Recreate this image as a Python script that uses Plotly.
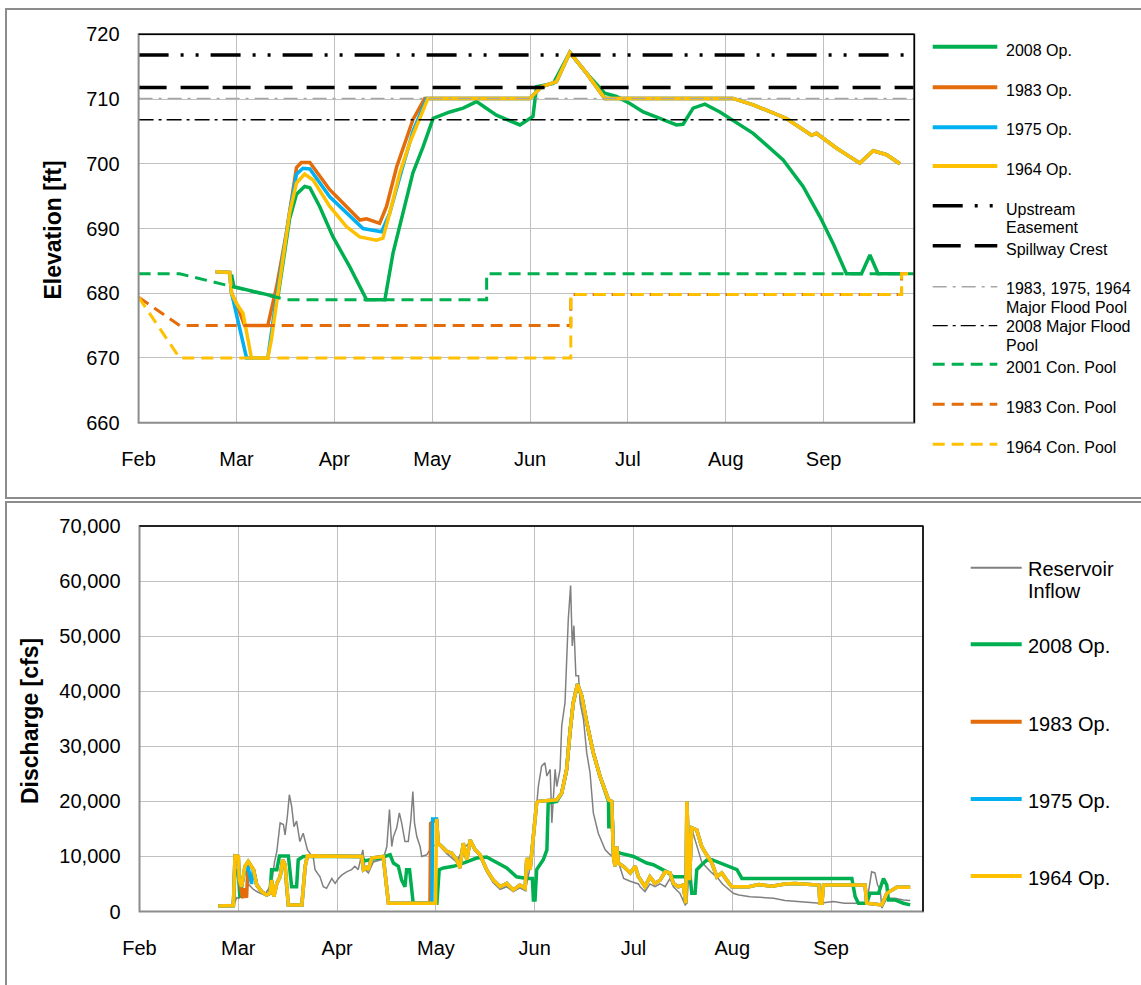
import plotly.graph_objects as go

W, H = 1141, 985
FONT = "Liberation Sans, Arial, Helvetica, sans-serif"

# ---------------- axis labels (x = days after Feb 1, ticks every 30 days) ----
month_ticks = [0, 30, 60, 90, 120, 150, 180, 210]
month_labels = ["Feb", "Mar", "Apr", "May", "Jun", "Jul", "Aug", "Sep"]
elev_ticks = [660, 670, 680, 690, 700, 710, 720]
q_ticks = [0, 10000, 20000, 30000, 40000, 50000, 60000, 70000]

# ---------------- elevation reference levels (ft) ----------------------------
upstream_easement = 716.8
spillway_crest = 711.8
major_flood_pool_old = 710.1
major_flood_pool_2008 = 706.8
ref_days = [0, 238]

# ---------------- conservation pools ----------------------------------------
con2001_day = [0, 12.6, 45.3, 106.7, 106.7, 238]
con2001_elev = [683, 683, 679, 679, 683, 683]
con1983_day = [0, 12.6, 132.5, 132.5, 233.9, 233.9, 238]
con1983_elev = [679.4, 675, 675, 679.8, 679.8, 683, 683]
con1964_day = [0, 12.6, 132.5, 132.5, 233.9, 233.9, 238]
con1964_elev = [679.4, 670, 670, 679.8, 679.8, 683, 683]

# ---------------- pool elevation for each operation --------------------------
op2008_day = [28.5, 29.2, 42.7, 44.3, 46.3, 48.4, 50.9, 52.5, 55.5, 59.6,
              64.7, 69.9, 75.5, 78.0, 81.1, 84.1, 87.2, 90.3, 95.4, 99.5,
              103.6, 109.7, 116.9, 120.9, 122.0, 127.1, 132.2, 137.3, 142.9, 146.5,
              150.6, 154.7, 159.8, 164.9, 166.9, 170.0, 173.6, 178.2, 188.4, 197.6,
              203.7, 208.9, 212.9, 217.0, 221.6, 224.2, 226.7, 233.4]
op2008_elev = [682.9, 681.0, 679.4, 685.1, 691.5, 695.3, 696.5, 696.3, 693.4, 688.7,
               684.1, 679.0, 679.0, 686.2, 692.4, 698.6, 702.6, 707.0, 708.0, 708.6,
               709.6, 707.5, 706.0, 707.3, 711.9, 712.4, 717.2, 714.0, 710.9, 710.4,
               709.3, 708.0, 707.0, 706.0, 706.1, 708.6, 709.2, 708.0, 704.7, 700.6,
               696.5, 691.8, 687.7, 683.0, 683.0, 685.9, 683.0, 683.0]

early1983_day = [23.6, 27.9, 28.5, 30.0, 32.5, 39.6, 42.3, 45.3, 48.4, 49.9,
                 52.5, 58.6, 67.8, 69.9, 73.9, 76.0, 79.1, 84.1, 87.7]
early1983_elev = [683.3, 683.2, 680.0, 678.4, 675.0, 675.0, 681.0, 689.3, 699.4, 700.2,
                  700.2, 696.0, 691.3, 691.5, 690.8, 693.4, 699.5, 706.8, 710.1]
early1975_day = [23.6, 27.9, 28.5, 30.0, 33.1, 39.6, 42.3, 46.3, 48.4, 50.4,
                 52.5, 58.6, 68.8, 74.5, 77.0, 80.1, 84.1, 88.3]
early1975_elev = [683.3, 683.2, 680.0, 676.9, 670.0, 670.0, 679.5, 692.5, 698.4, 699.3,
                  699.2, 694.9, 690.0, 689.5, 692.4, 698.0, 705.0, 710.1]
early1964_day = [23.6, 27.9, 28.5, 30.0, 32.0, 33.1, 34.6, 39.6, 40.7, 42.3,
                 44.3, 46.3, 48.4, 50.9, 53.5, 58.6, 63.7, 67.8, 72.9, 74.9,
                 77.0, 80.1, 83.1, 86.2]
early1964_elev = [683.3, 683.2, 680.0, 678.4, 676.9, 673.9, 670.0, 670.0, 672.8, 678.5,
                  685.1, 692.4, 697.0, 698.4, 697.5, 693.4, 690.3, 688.7, 688.2, 688.5,
                  692.4, 698.6, 703.2, 707.2]
# 1983, 1975 and 1964 operations coincide from May onward
late_day = [88.7, 119.9, 123.5, 128.1, 132.2, 137.3, 142.9, 182.2, 188.4, 198.6,
            206.3, 207.8, 214.0, 221.1, 225.2, 229.3, 233.4]
late_elev = [710.1, 710.1, 711.9, 712.7, 717.2, 714.0, 710.1, 710.1, 709.1, 707.0,
             704.4, 704.7, 702.4, 700.1, 702.0, 701.4, 700.0]

# ---------------- discharge (day, cfs) ---------------------------------------
inflow_pts = [
    (23.9, 900), (28.5, 1000), (29.5, 2500), (30.2, 2400), (31.0, 4000), (32.0, 3000),
    (33.0, 5000), (34.6, 4000), (36.0, 3500), (38.0, 3000), (40.1, 5000), (41.0, 9000),
    (41.7, 10900), (42.7, 16100), (43.7, 15800), (44.2, 13900), (44.9, 17300), (45.5, 21200),
    (46.2, 19100), (46.9, 15400), (47.7, 16400), (48.7, 12700), (49.7, 14200), (51.0, 11200),
    (52.8, 9700), (53.3, 7600), (54.8, 6300), (55.8, 4500), (56.8, 4200), (58.4, 6000),
    (59.4, 5100), (60.4, 6000), (61.4, 6600), (62.9, 7200), (64.4, 7600), (65.4, 8200),
    (66.4, 7600), (67.8, 11200), (68.5, 7600), (69.5, 7000), (71.0, 9000), (74.0, 9500),
    (75.1, 11800), (75.9, 18500), (76.6, 11800), (77.1, 13600), (78.1, 15200), (78.9, 17900),
    (79.6, 16100), (80.6, 12700), (81.6, 12700), (82.4, 16700), (83.0, 21800), (83.5, 16100),
    (84.2, 13600), (85.2, 11800), (85.7, 10000), (87.2, 10300), (89.0, 12000), (91.0, 12000),
    (93.3, 10500), (96.3, 9000), (98.3, 11500), (100.4, 12500), (103.4, 10000), (105.4, 7200),
    (107.4, 5200), (109.5, 4000), (111.5, 4500), (113.5, 3600), (115.5, 4300), (117.1, 3800),
    (118.6, 8000), (120.1, 16000), (121.1, 22700), (122.1, 26400), (123.1, 27000), (123.7, 24600),
    (124.7, 25800), (125.2, 16100), (126.2, 25800), (126.7, 22700), (127.7, 25800), (128.2, 33700),
    (129.2, 37900), (130.2, 53100), (130.9, 59200), (131.4, 48200), (131.9, 51900), (132.5, 42800),
    (133.3, 42800), (133.8, 37900), (134.8, 34900), (135.8, 28800), (136.8, 25200), (137.8, 17900),
    (139.3, 14200), (141.4, 11200), (142.9, 10300), (144.0, 10000), (145.4, 9000), (147.0, 6000),
    (149.0, 5500), (151.5, 5000), (152.0, 4500), (153.5, 3600), (155.0, 5000), (156.5, 4500),
    (158.1, 5000), (159.6, 4500), (161.1, 6000), (162.1, 4500), (164.1, 3300), (165.7, 1200),
    (166.2, 1500), (167.2, 12000), (167.7, 15000), (169.2, 12000), (170.7, 9000), (172.2, 8000),
    (173.8, 7000), (175.3, 6300), (177.0, 5000), (180.3, 3300), (182.0, 3000), (185.4, 2700),
    (190.0, 2500), (192.5, 2400), (196.0, 2000), (199.6, 1800), (203.0, 1700), (206.6, 1500),
    (210.7, 1800), (214.0, 1500), (216.8, 1500), (220.8, 1500), (222.3, 7200), (223.3, 7000),
    (224.1, 4800), (224.9, 4000), (225.4, 600), (226.9, 2400), (229.4, 2400), (231.9, 2100),
    (234.0, 2000)]

q2008_pts = [
    (23.9, 1000), (28.5, 1100), (29.0, 7600), (30.0, 7000), (30.5, 2500), (31.0, 4500),
    (32.0, 8200), (33.0, 9100), (34.6, 7600), (35.6, 4800), (37.1, 3600), (38.6, 3000),
    (39.6, 3300), (40.1, 7600), (41.7, 7600), (42.5, 10100), (45.2, 10100), (46.2, 4500),
    (47.7, 4500), (48.2, 9400), (49.7, 10000), (67.0, 10000), (68.5, 9200), (70.5, 9500),
    (73.0, 9700), (76.1, 10300), (77.1, 8800), (78.6, 8200), (79.6, 5700), (80.6, 4500),
    (81.1, 7600), (82.0, 7600), (82.7, 3900), (83.1, 1500), (90.3, 1500), (91.0, 7600),
    (92.3, 7900), (95.3, 8200), (98.3, 8800), (102.4, 9700), (105.4, 9900), (108.5, 8800),
    (111.5, 7900), (114.5, 6300), (117.6, 6000), (119.3, 6000), (119.6, 2100), (120.1, 2100),
    (120.6, 7600), (122.6, 9400), (123.7, 11200), (124.1, 19700), (126.7, 20000), (128.2, 21500),
    (129.7, 25800), (130.7, 32500), (131.7, 37900), (133.0, 41300), (134.3, 39100), (135.8, 34300),
    (137.8, 28800), (139.8, 24600), (142.4, 20000), (142.5, 15400), (143.2, 15400), (143.4, 19700),
    (143.9, 11200), (145.9, 10600), (150.0, 10000), (154.0, 8800), (156.0, 8500), (160.1, 7200),
    (162.1, 6300), (167.2, 6300), (167.7, 3300), (168.7, 3300), (169.2, 7600), (170.7, 8500),
    (172.2, 9300), (173.8, 9400), (176.3, 8800), (178.8, 8200), (181.4, 7600), (182.9, 6000),
    (216.3, 6000), (217.3, 2700), (218.3, 1500), (220.8, 1500), (221.8, 3300), (224.4, 3300),
    (225.9, 6000), (226.9, 4800), (227.4, 2100), (229.4, 2100), (231.9, 1500), (234.0, 1200)]

q_start_pts = [(23.9, 1000), (28.5, 1100), (29.0, 10100), (30.0, 10000), (30.3, 5700)]
q1983_march_pts = [(31.3, 2400), (31.8, 4200), (32.5, 2500), (33.0, 9100)]
q1975_march_pts = [(31.0, 4500), (32.0, 7600), (33.0, 8000), (34.0, 5000)]
q1964_march_pts = [(31.0, 4500), (32.0, 8200), (33.0, 9100)]
q_spring_pts = [
    (34.6, 7600), (35.6, 4800), (37.1, 3600), (38.6, 3000), (39.6, 3300), (40.1, 5700),
    (40.8, 2700), (41.7, 5100), (42.7, 6300), (43.5, 9400), (44.2, 8500), (44.7, 4500),
    (45.2, 1200), (49.3, 1200), (50.3, 8200), (51.0, 10100), (67.5, 10000), (68.0, 7600),
    (69.0, 8000), (69.5, 7600), (70.5, 9700), (74.0, 10000), (75.6, 1500)]
q1983_may_pts = [(88.2, 1500), (88.4, 16000), (90.2, 16800)]
q1975_may_pts = [(88.8, 1500), (89.0, 16800), (90.2, 16800)]
q1964_may_pts = [(89.9, 1500), (90.2, 16800)]
q_summer_pts = [
    (90.7, 12400), (91.8, 11800), (93.3, 10900), (94.8, 10600), (96.3, 9400), (97.3, 7900),
    (98.3, 12400), (99.4, 9400), (100.4, 13000), (101.9, 11200), (103.4, 10300), (105.4, 7600),
    (107.4, 5700), (109.5, 4500), (111.5, 5100), (113.5, 3900), (115.5, 4800), (117.1, 4200),
    (117.6, 9700), (118.6, 7600), (119.6, 13000), (120.6, 19800), (121.1, 20000), (126.7, 20300),
    (128.2, 21500), (129.7, 25800), (130.7, 32500), (131.7, 37900), (133.0, 41300), (134.3, 39100),
    (135.8, 34300), (137.8, 28800), (139.8, 24600), (142.4, 20300), (143.4, 20000), (143.9, 10000),
    (144.4, 8200), (144.9, 11800), (145.4, 8800), (146.9, 8200), (149.0, 7000), (150.5, 8200),
    (151.5, 6300), (153.5, 4500), (155.0, 6300), (156.5, 5100), (158.1, 5700), (159.6, 7200),
    (161.1, 7000), (162.1, 5100), (163.6, 4500), (165.1, 4800), (165.9, 1500), (166.2, 20000),
    (167.0, 5700), (167.7, 15200), (169.2, 14800), (170.7, 11800), (172.2, 10300), (173.8, 8800),
    (175.3, 6300), (176.8, 7000), (178.3, 5700), (179.8, 4500), (185.0, 4500), (188.0, 4900),
    (192.0, 4600), (196.0, 5000), (199.1, 5100), (203.0, 4900), (206.3, 4800), (206.6, 1500),
    (207.2, 1500), (207.7, 4800), (220.3, 4800), (220.8, 1500), (225.4, 1200), (226.9, 3300),
    (229.9, 4400), (234.0, 4400)]

# ---------------- styles ------------------------------------------------------
GREEN, ORANGE, BLUE, YELLOW, GREY = "#00b050", "#e46c0a", "#00b0f0", "#ffc000", "#808080"
DASH_EASE = "30px,12px,3px,12px,3px,12px"
DASH_SPILL = "28px,14px"
DASH_MFP_OLD = "14px,6px,3px,6px"
DASH_MFP_08 = "15px,5px,3px,5px"
DASH_CON = "12px,7px"


def unzip(pts):
    return [p[0] for p in pts], [p[1] for p in pts]


fig = go.Figure()


def add(x, y, color, width, dash="solid", xa="x", ya="y"):
    fig.add_trace(go.Scatter(x=x, y=y, mode="lines", xaxis=xa, yaxis=ya, showlegend=False,
                             hoverinfo="skip",
                             line=dict(color=color, width=width, dash=dash)))


# ---- top chart ----
add(op2008_day, op2008_elev, GREEN, 3.5)
add(early1983_day + late_day, early1983_elev + late_elev, ORANGE, 3.5)
add(early1975_day + late_day, early1975_elev + late_elev, BLUE, 3.5)
add(early1964_day + late_day, early1964_elev + late_elev, YELLOW, 3.5)
add(ref_days, [upstream_easement] * 2, "black", 3.5, DASH_EASE)
add(ref_days, [spillway_crest] * 2, "black", 3.5, DASH_SPILL)
add(ref_days, [major_flood_pool_old] * 2, "#a6a6a6", 1.5, DASH_MFP_OLD)
add(ref_days, [major_flood_pool_2008] * 2, "black", 1.3, DASH_MFP_08)
add(con2001_day, con2001_elev, GREEN, 3, DASH_CON)
add(con1983_day, con1983_elev, ORANGE, 3, DASH_CON)
add(con1964_day, con1964_elev, YELLOW, 3, DASH_CON)

# ---- bottom chart ----
x, y = unzip(inflow_pts)
add(x, y, GREY, 1.5, xa="x2", ya="y2")
x, y = unzip(q2008_pts)
add(x, y, GREEN, 3.5, xa="x2", ya="y2")
x, y = unzip(q_start_pts + q1983_march_pts + q_spring_pts + q1983_may_pts + q_summer_pts)
add(x, y, ORANGE, 3.5, xa="x2", ya="y2")
x, y = unzip(q_start_pts + q1975_march_pts + q_spring_pts + q1975_may_pts + q_summer_pts)
add(x, y, BLUE, 3.5, xa="x2", ya="y2")
x, y = unzip(q_start_pts + q1964_march_pts + q_spring_pts + q1964_may_pts + q_summer_pts)
add(x, y, YELLOW, 3.5, xa="x2", ya="y2")

# ---------------- layout ------------------------------------------------------
def px_x(v):
    return v / W


def px_y(v):
    return (H - v) / H


tickfont = dict(family=FONT, size=20, color="black")
common_x = dict(tickvals=month_ticks, ticktext=month_labels, showgrid=True,
                gridcolor="#c0c0c0", gridwidth=1, zeroline=False, showline=False,
                ticks="", tickfont=tickfont, ticklabelstandoff=22, automargin=False)
common_y = dict(showgrid=True, gridcolor="#c0c0c0", gridwidth=1, zeroline=False,
                showline=False, ticks="", tickfont=tickfont, ticklabelstandoff=18,
                automargin=False)

fig.update_layout(
    template="none",
    width=W, height=H, autosize=False,
    margin=dict(l=0, r=0, t=0, b=0, pad=0, autoexpand=False),
    paper_bgcolor="white", plot_bgcolor="white", showlegend=False,
    xaxis=dict(domain=[px_x(138.6), px_x(914.3)], range=[0, 237.8], anchor="y", **common_x),
    yaxis=dict(domain=[px_y(422.7), px_y(34.3)], range=[660, 720], tickvals=elev_ticks,
               anchor="x", **common_y),
    xaxis2=dict(domain=[px_x(139.5), px_x(923.0)], range=[0, 237.9], anchor="y2", **common_x),
    yaxis2=dict(domain=[px_y(911.5), px_y(526.0)], range=[0, 70000], tickvals=q_ticks,
                tickformat=",d", anchor="x2", **common_y),
)

shapes = []
# chart frames
shapes.append(dict(type="rect", xref="paper", yref="paper", x0=px_x(6), x1=1.01,
                   y0=px_y(498), y1=px_y(9), line=dict(color="#8c8c8c", width=2)))
shapes.append(dict(type="rect", xref="paper", yref="paper", x0=px_x(6), x1=1.01,
                   y0=-0.01, y1=px_y(502), line=dict(color="#8c8c8c", width=2)))
# plot area borders
for xr, yr in (("x", "y"), ("x2", "y2")):
    shapes.append(dict(type="rect", xref=xr + " domain", yref=yr + " domain", x0=0, x1=1,
                       y0=0, y1=1, line=dict(color="#8c8c8c", width=2), layer="above"))
    shapes.append(dict(type="line", xref=xr + " domain", yref=yr + " domain", x0=0, x1=1,
                       y0=1, y1=1, line=dict(color="black", width=1.5), layer="above"))
    shapes.append(dict(type="line", xref=xr + " domain", yref=yr + " domain", x0=1, x1=1,
                       y0=0, y1=1, line=dict(color="black", width=1.5), layer="above"))

annotations = []


def text(x, y, s, size, anchor="left", bold=False, angle=0):
    annotations.append(dict(xref="paper", yref="paper", x=px_x(x), y=px_y(y),
                            text=("<b>%s</b>" % s) if bold else s, showarrow=False,
                            xanchor=anchor, yanchor="middle", textangle=angle,
                            font=dict(family=FONT, size=size, color="black")))


# axis titles
text(52.5, 230, "Elevation [ft]", 23, anchor="center", bold=True, angle=-90)
text(30, 721, "Discharge [cfs]", 23, anchor="center", bold=True, angle=-90)

# top legend
top_legend = [
    (46.7, GREEN, 4, "solid", [(50.8, "2008 Op.")]),
    (87.3, ORANGE, 4, "solid", [(90.8, "1983 Op.")]),
    (127.3, BLUE, 4, "solid", [(129.8, "1975 Op.")]),
    (166.0, YELLOW, 4, "solid", [(169.0, "1964 Op.")]),
    (205.7, "black", 3.5, DASH_EASE, [(209.0, "Upstream"), (227.5, "Easement")]),
    (245.7, "black", 3.5, DASH_SPILL, [(249.0, "Spillway Crest")]),
    (286.7, "#a6a6a6", 1.5, DASH_MFP_OLD, [(288.5, "1983, 1975, 1964"), (307.5, "Major Flood Pool")]),
    (325.7, "black", 1.3, DASH_MFP_08, [(326.5, "2008 Major Flood"), (345.8, "Pool")]),
    (364.3, GREEN, 3, DASH_CON, [(367.5, "2001 Con. Pool")]),
    (404.3, ORANGE, 3, DASH_CON, [(407.5, "1983 Con. Pool")]),
    (444.3, YELLOW, 3, DASH_CON, [(447.5, "1964 Con. Pool")]),
]
for ly, col, wd, ds, lines in top_legend:
    shapes.append(dict(type="line", xref="paper", yref="paper", x0=px_x(932.7), x1=px_x(997.3),
                       y0=px_y(ly), y1=px_y(ly), line=dict(color=col, width=wd, dash=ds)))
    for ty, s in lines:
        text(1004, ty, s, 16)

# bottom legend
bottom_legend = [
    (567.7, GREY, 2, [(568.5, "Reservoir"), (591.0, "Inflow")]),
    (644.3, GREEN, 4, [(646.0, "2008 Op.")]),
    (721.7, ORANGE, 4, [(723.5, "1983 Op.")]),
    (799.0, BLUE, 4, [(801.0, "1975 Op.")]),
    (876.0, YELLOW, 4, [(877.5, "1964 Op.")]),
]
for ly, col, wd, lines in bottom_legend:
    shapes.append(dict(type="line", xref="paper", yref="paper", x0=px_x(970.7), x1=px_x(1021.7),
                       y0=px_y(ly), y1=px_y(ly), line=dict(color=col, width=wd)))
    for ty, s in lines:
        text(1025.5, ty, s, 20)

fig.update_layout(shapes=shapes, annotations=annotations)
fig.write_html("out.html")
